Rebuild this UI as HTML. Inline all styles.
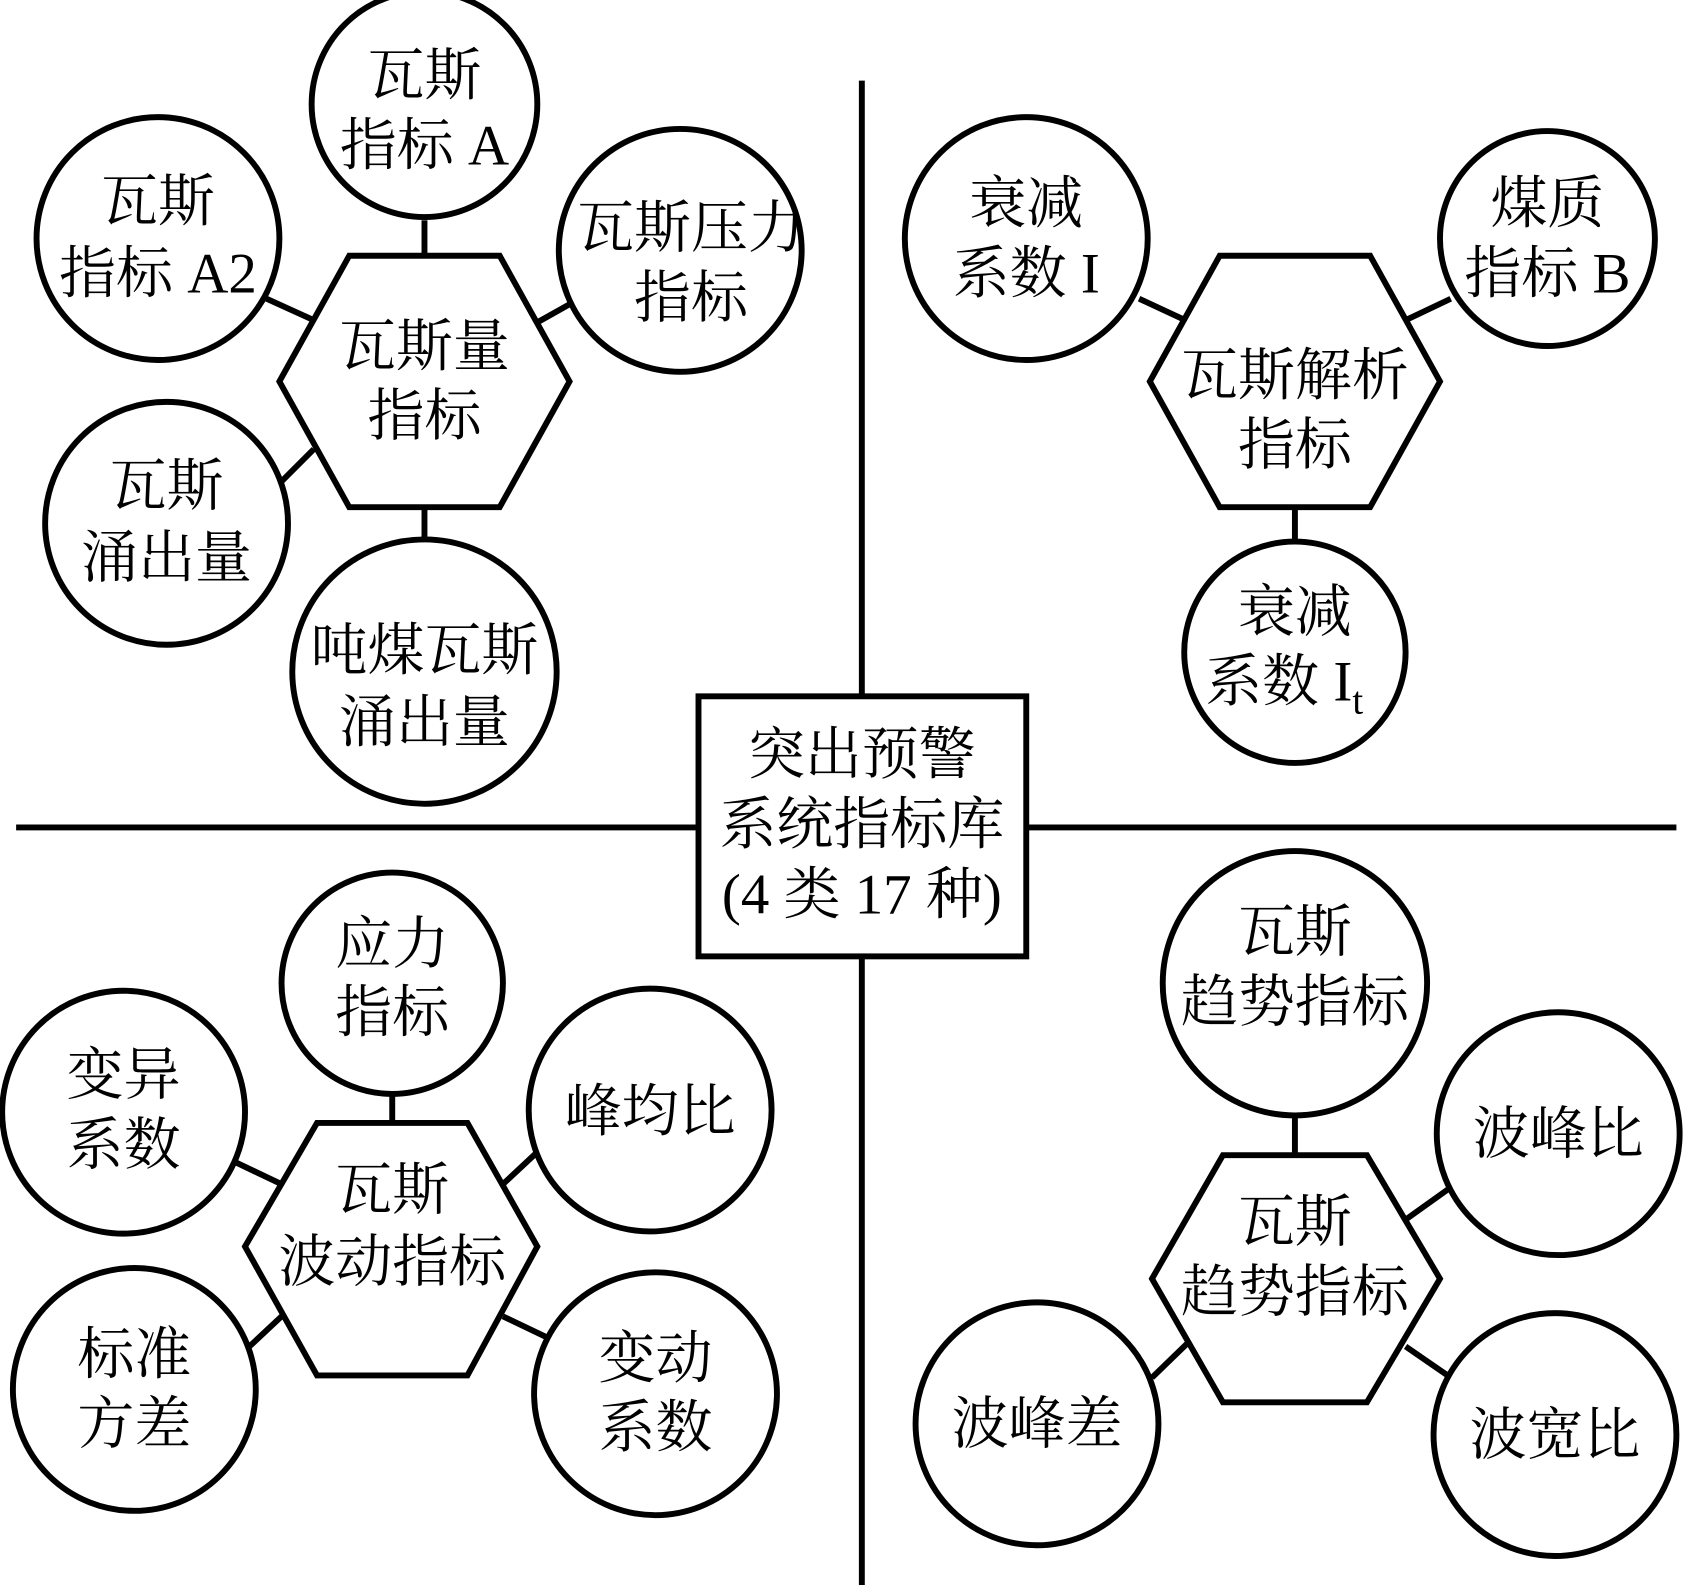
<!DOCTYPE html>
<html><head><meta charset="utf-8"><style>
html,body{margin:0;padding:0;background:#fff;}
svg{display:block;}
text{font-family:"Liberation Serif","Noto Serif CJK SC",serif;font-size:53px;fill:#000;text-anchor:middle;}
</style></head><body>
<svg width="1685" height="1585" viewBox="0 0 1568 1475" preserveAspectRatio="none" xmlns="http://www.w3.org/2000/svg">
<g stroke="#000" stroke-width="5.5" fill="#fff">
<line x1="802" y1="75" x2="802" y2="1475"/>
<line x1="15" y1="770" x2="1560" y2="770"/>
<line x1="395" y1="205" x2="395" y2="238"/>
<line x1="248" y1="278" x2="292" y2="298"/>
<line x1="500" y1="300" x2="532" y2="282"/>
<line x1="260" y1="450" x2="292" y2="418"/>
<line x1="395" y1="472" x2="395" y2="502"/>
<line x1="1060" y1="278" x2="1103" y2="298"/>
<line x1="1308" y1="298" x2="1350" y2="278"/>
<line x1="1205" y1="472" x2="1205" y2="505"/>
<line x1="365" y1="1018" x2="365" y2="1045"/>
<line x1="220" y1="1082" x2="262" y2="1102"/>
<line x1="468" y1="1102" x2="498" y2="1074"/>
<line x1="230" y1="1255" x2="262" y2="1225"/>
<line x1="468" y1="1225" x2="512" y2="1246"/>
<line x1="1205" y1="1038" x2="1205" y2="1075"/>
<line x1="1308" y1="1135" x2="1350" y2="1105"/>
<line x1="1072" y1="1282" x2="1105" y2="1250"/>
<line x1="1308" y1="1253" x2="1350" y2="1282"/>
<rect x="650" y="648" width="305" height="242"/>
<polygon points="260,355 325,238 465,238 530,355 465,472 325,472"/>
<polygon points="1070,355 1135,238 1275,238 1340,355 1275,472 1135,472"/>
<polygon points="228,1160 295,1045 435,1045 500,1160 435,1280 295,1280"/>
<polygon points="1072,1190 1138,1075 1272,1075 1340,1190 1272,1305 1138,1305"/>
<circle cx="395" cy="97" r="105"/>
<circle cx="147" cy="222" r="113"/>
<circle cx="633" cy="233" r="113"/>
<circle cx="155" cy="487" r="113"/>
<circle cx="395" cy="625" r="123"/>
<circle cx="955" cy="222" r="113"/>
<circle cx="1440" cy="222" r="100"/>
<circle cx="1205" cy="607" r="103"/>
<circle cx="365" cy="915" r="103"/>
<circle cx="115" cy="1035" r="113"/>
<circle cx="605" cy="1033" r="113"/>
<circle cx="125" cy="1293" r="113"/>
<circle cx="610" cy="1297" r="113"/>
<circle cx="1205" cy="915" r="123"/>
<circle cx="1450" cy="1055" r="113"/>
<circle cx="965" cy="1325" r="113"/>
<circle cx="1447" cy="1335" r="113"/>
</g>
<text x="802" y="720">突出预警</text>
<text x="802" y="785">系统指标库</text>
<text x="802" y="850">(4 类 17 种)</text>

<text x="395" y="340">瓦斯量</text><text x="395" y="405">指标</text>
<text x="1205" y="367">瓦斯解析</text><text x="1205" y="432">指标</text>
<text x="365" y="1125">瓦斯</text><text x="365" y="1192">波动指标</text>
<text x="1205" y="1155">瓦斯</text><text x="1205" y="1220">趋势指标</text>

<text x="395" y="88">瓦斯</text><text x="395" y="153">指标 A</text>
<text x="147" y="205">瓦斯</text><text x="147" y="272">指标 A2</text>
<text x="643" y="230">瓦斯压力</text><text x="643" y="295">指标</text>
<text x="155" y="470">瓦斯</text><text x="155" y="537">涌出量</text>
<text x="395" y="623">吨煤瓦斯</text><text x="395" y="690">涌出量</text>

<text x="955" y="207">衰减</text><text x="955" y="272">系数 I</text>
<text x="1440" y="207">煤质</text><text x="1440" y="272">指标 B</text>
<text x="1205" y="587">衰减</text><text x="1195" y="652">系数 I<tspan font-size="36" dy="12">t</tspan></text>

<text x="365" y="896">应力</text><text x="365" y="960">指标</text>
<text x="115" y="1018">变异</text><text x="115" y="1083">系数</text>
<text x="605" y="1052">峰均比</text>
<text x="125" y="1278">标准</text><text x="125" y="1343">方差</text>
<text x="610" y="1282">变动</text><text x="610" y="1346">系数</text>

<text x="1205" y="885">瓦斯</text><text x="1205" y="950">趋势指标</text>
<text x="1450" y="1073">波峰比</text>
<text x="965" y="1343">波峰差</text>
<text x="1447" y="1353">波宽比</text>
</svg>
</body></html>
